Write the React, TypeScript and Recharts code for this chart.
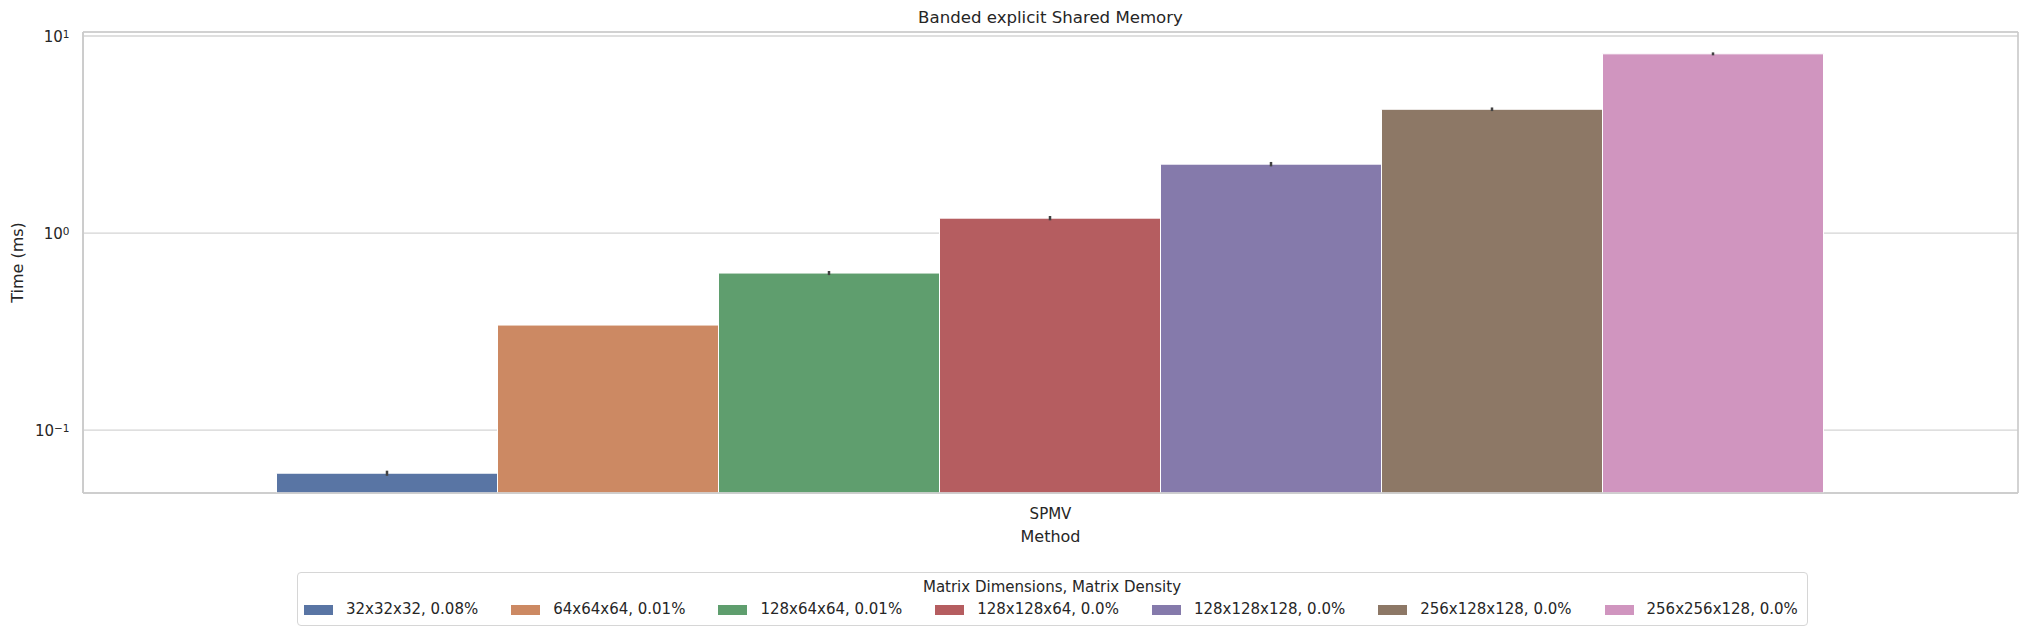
import { Bar, BarChart, CartesianGrid, ErrorBar, Legend, XAxis, YAxis } from 'recharts';

const methods = ['SPMV'];

const seriesLabels = [
  '32x32x32, 0.08%',
  '64x64x64, 0.01%',
  '128x64x64, 0.01%',
  '128x128x64, 0.0%',
  '128x128x128, 0.0%',
  '256x128x128, 0.0%',
  '256x256x128, 0.0%',
];

// seaborn "deep" palette, desaturated to 0.75 like barplot does
const seriesColors = ['#5975a4', '#cc8963', '#5f9e6e', '#b55d60', '#857aab', '#8d7866', '#d095bf'];

const times = [0.0605, 0.3415, 0.627, 1.191, 2.238, 4.25, 8.12];
const timeErrors = [0.0018, 0, 0.015, 0.03, 0.058, 0.09, 0.14];

const yTicks = [0.1, 1, 10];
const yTickExponents = ['−1', '0', '1'];

const textColor = '#262626';
const font = '"DejaVu Sans", sans-serif';

const data = methods.map((method) => {
  const row: { [key: string]: string | number } = { method };
  times.forEach((t, i) => {
    row[`s${i}`] = t;
    row[`e${i}`] = timeErrors[i];
  });
  return row;
});

const YTick = ({ x, y, payload }: any) => {
  const idx = yTicks.indexOf(payload.value);
  return (
    <text x={x - 13.5} y={y + 6.3} textAnchor='end' fill={textColor} fontSize={15} fontFamily={font}>
      10
      <tspan dy={-4.5} fontSize={10.5}>
        {yTickExponents[idx]}
      </tspan>
    </text>
  );
};

const XTick = ({ x, y, payload }: any) => (
  <text x={x} y={y + 26} textAnchor='middle' fill={textColor} fontSize={15} fontFamily={font}>
    {payload.value}
  </text>
);

const YLabel = ({ viewBox }: any) => {
  const cy = viewBox ? viewBox.y + viewBox.height / 2 : 262.5;
  return (
    <text
      x={23}
      y={cy}
      transform={`rotate(-90, 23, ${cy})`}
      textAnchor='middle'
      fill={textColor}
      fontSize={16}
      fontFamily={font}
    >
      Time (ms)
    </text>
  );
};

const XLabel = ({ viewBox }: any) => {
  const cx = viewBox ? viewBox.x + viewBox.width / 2 : 1050;
  const y = viewBox ? viewBox.y + 48.7 : 541.7;
  return (
    <text x={cx} y={y} textAnchor='middle' fill={textColor} fontSize={16} fontFamily={font}>
      Method
    </text>
  );
};

const LegendBox = () => (
  <div
    style={{
      boxSizing: 'border-box',
      width: 1511,
      height: 54,
      border: '1px solid #d6d6d6',
      borderRadius: 4,
      background: '#fff',
      fontFamily: font,
      fontSize: 15,
      color: textColor,
      paddingTop: 7.6,
      paddingLeft: 6.5,
    }}
  >
    <div style={{ lineHeight: '15px', height: 15, textAlign: 'center', paddingRight: 6.5 }}>
      Matrix Dimensions, Matrix Density
    </div>
    <div style={{ display: 'flex', alignItems: 'center', marginTop: 7.4, lineHeight: '15px', height: 15 }}>
      {seriesLabels.map((label, i) => (
        <div
          key={label}
          style={{
            display: 'flex',
            alignItems: 'center',
            marginRight: i < seriesLabels.length - 1 ? 33 : 0,
            whiteSpace: 'nowrap',
          }}
        >
          <span style={{ display: 'inline-block', width: 29, height: 10, background: seriesColors[i], marginRight: 13 }} />
          <span>{label}</span>
        </div>
      ))}
    </div>
  </div>
);

// axes frame (spines) on the four sides of the plot area
const frameRows = ({ offset }: any) => [offset.top, offset.top + offset.height];
const frameCols = ({ offset }: any) => [offset.left, offset.left + offset.width];

export default function App() {
  return (
    <div style={{ position: 'absolute', left: 0, top: 0, width: 2030, height: 635, background: '#fff' }}>
      <div
        style={{
          position: 'absolute',
          left: 83,
          width: 1935,
          top: 10,
          textAlign: 'center',
          fontFamily: font,
          fontSize: 16.6,
          lineHeight: '16px',
          color: textColor,
        }}
      >
        Banded explicit Shared Memory
      </div>
      <BarChart
        width={2030}
        height={635}
        data={data}
        margin={{ top: 32, right: 12, bottom: 82, left: 0 }}
        barCategoryGap='10%'
        barGap={0}
      >
        <CartesianGrid vertical={false} stroke='#d4d4d4' strokeWidth={1.3} />
        <CartesianGrid
          stroke='#cccccc'
          strokeWidth={1.7}
          horizontalCoordinatesGenerator={frameRows}
          verticalCoordinatesGenerator={frameCols}
        />
        <XAxis
          dataKey='method'
          height={60}
          tickLine={false}
          tickSize={0}
          tickMargin={0}
          axisLine={{ stroke: '#cccccc', strokeWidth: 1.7 }}
          tick={<XTick />}
          label={<XLabel />}
        />
        <YAxis
          scale='log'
          type='number'
          domain={[0.048, 10.48]}
          allowDataOverflow
          ticks={yTicks}
          width={83}
          tickLine={false}
          tickSize={0}
          tickMargin={0}
          axisLine={{ stroke: '#cccccc', strokeWidth: 1.7 }}
          tick={<YTick />}
          label={<YLabel />}
        />
        <Legend
          layout='horizontal'
          verticalAlign='middle'
          align='center'
          wrapperStyle={{ left: 296.5, top: 571.5, width: 1511, height: 54 }}
          content={() => <LegendBox />}
        />
        {seriesLabels.map((label, i) => (
          <Bar
            key={label}
            dataKey={`s${i}`}
            name={label}
            fill={seriesColors[i]}
            stroke='#ffffff'
            strokeWidth={1}
            isAnimationActive={false}
          >
            <ErrorBar dataKey={`e${i}`} direction='y' width={0} stroke='#424242' strokeWidth={2.5} />
          </Bar>
        ))}
      </BarChart>
    </div>
  );
}
